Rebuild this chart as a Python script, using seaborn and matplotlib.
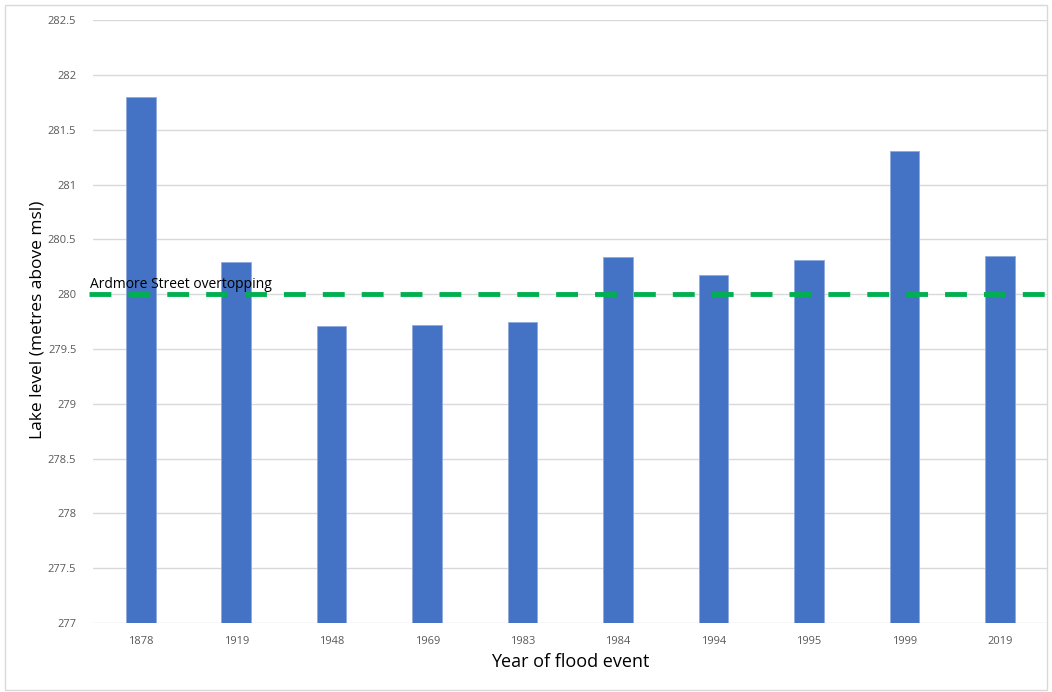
import matplotlib
matplotlib.use("Agg")
import matplotlib.pyplot as plt
import seaborn as sns
import pandas as pd
from matplotlib.patches import Rectangle

years = ["1878", "1919", "1948", "1969", "1983", "1984", "1994", "1995", "1999", "2019"]
levels = [281.80, 280.29, 279.71, 279.72, 279.75, 280.34, 280.17, 280.31, 281.31, 280.35]
overtop_level = 280.0
overtop_label = "Ardmore Street overtopping"
y_ticks = [277, 277.5, 278, 278.5, 279, 279.5, 280, 280.5, 281, 281.5, 282, 282.5]
y_tick_labels = ["277", "277.5", "278", "278.5", "279", "279.5", "280", "280.5", "281", "281.5", "282", "282.5"]

sns.set_style("white")
plt.rcParams['font.family'] = ['Open Sans', 'DejaVu Sans']

df = pd.DataFrame({"year": years, "level": levels})

fig = plt.figure(figsize=(10.52, 6.92), dpi=100)
ax = fig.add_axes([0.0884, 0.0997, 0.9076, 0.8713])

sns.barplot(data=df, x="year", y="level", color="#4472C4", width=0.31,
            saturation=1, ax=ax, zorder=3, edgecolor="#8FAADC", linewidth=0.6)

ax.set_ylim(277, 282.5)
ax.set_xlim(-0.5, len(years) - 0.5)
ax.set_yticks(y_ticks)
ax.set_yticklabels(y_tick_labels)
ax.yaxis.grid(True, color="#D9D9D9", linewidth=1, zorder=0)
ax.xaxis.grid(False)
ax.set_axisbelow(True)
for s in ax.spines.values():
    s.set_visible(False)
ax.tick_params(axis="both", length=0, labelsize=8, colors="#595959")
ax.tick_params(axis="x", pad=9)
ax.tick_params(axis="y", pad=12)

ax.axhline(overtop_level, xmin=-0.004, xmax=1.0, color="#00B050", linewidth=3.5,
           dashes=(4.5, 3.5), zorder=4, clip_on=False)
ax.text(-0.53, overtop_level + 0.015, overtop_label, fontsize=10, color="#000000",
        ha="left", va="bottom", zorder=5)

ax.set_ylabel("")
fig.text(38 / 1052, 0.5 + (692 / 2 - 320) / 692, "Lake level (metres above msl)",
         rotation=90, fontsize=12.5, color="#000000", ha="center", va="center")
ax.set_xlabel("Year of flood event", fontsize=13, color="#000000", labelpad=5)

fig.patches.append(Rectangle((5 / 1052, 2 / 692), 1042 / 1052, 685 / 692,
                             transform=fig.transFigure, fill=False,
                             edgecolor="#D9D9D9", linewidth=1))

fig.savefig("out.png", dpi=100)
